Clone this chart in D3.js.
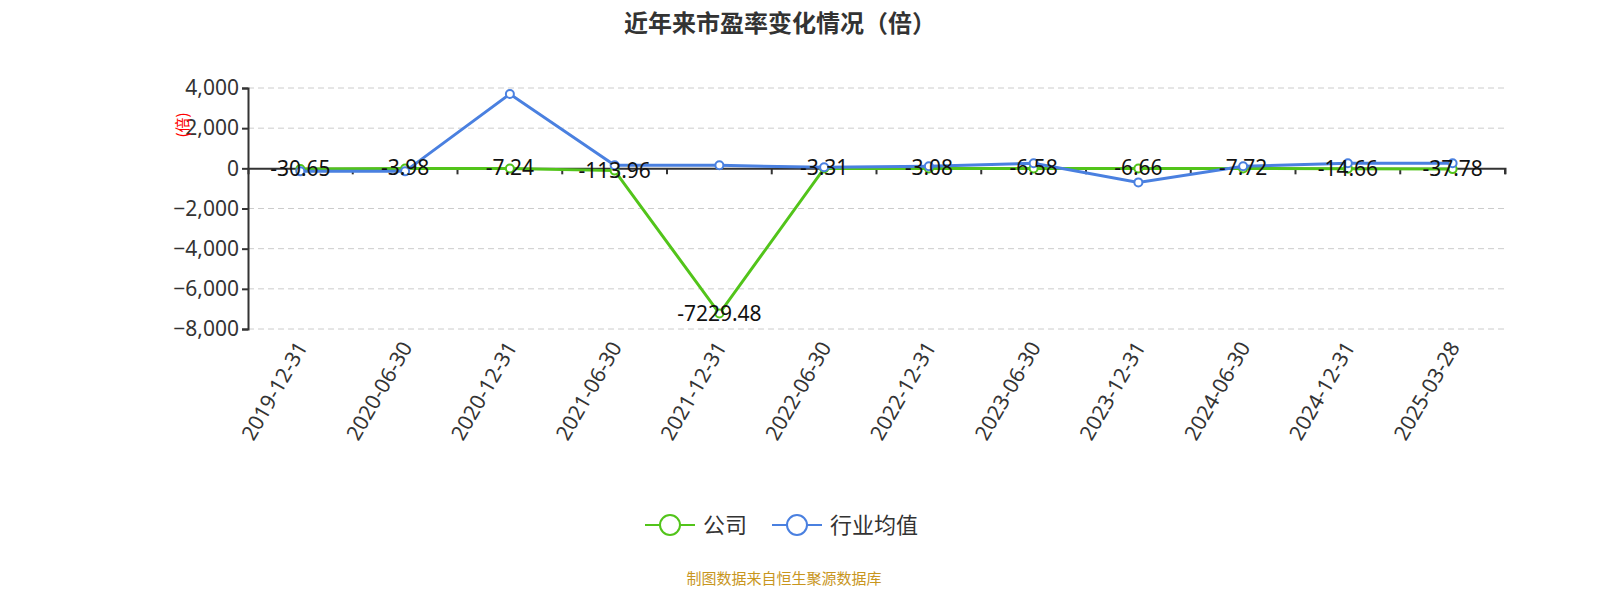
<!DOCTYPE html><html><head><meta charset="utf-8"><script src="https://d3js.org/d3.v7.min.js"></script>
<style>html,body{margin:0;padding:0;overflow:hidden;background:#fff;font-family:"Noto Sans CJK SC","Noto Sans",sans-serif}svg{display:block}</style></head><body><svg id="c" width="1600" height="600"></svg>
<script>
const categories=["2019-12-31","2020-06-30","2020-12-31","2021-06-30","2021-12-31","2022-06-30","2022-12-31","2023-06-30","2023-12-31","2024-06-30","2024-12-31","2025-03-28"];
const company=[-30.65,-3.98,-7.24,-113.96,-7229.48,-3.31,-3.08,-6.58,-6.66,-7.72,-14.66,-37.78];
const industry=[-150,-150,3700,150,150,50,100,250,-700,100,250,250];
const yTicks=[4000,2000,0,-2000,-4000,-6000,-8000];
const svg=d3.select("#c");
const L=248,R=1505,T=88,B=329;
const x=d3.scaleBand().domain(categories).range([L,R]);
const y=d3.scaleLinear().domain([-8000,4000]).range([B,T]);
const cx=d=>x(d)+x.bandwidth()/2;
svg.append("text").attr("x",780).attr("y",32).attr("text-anchor","middle").attr("font-size",24).attr("font-weight","bold").attr("fill","#333").text("近年来市盈率变化情况（倍）");
svg.selectAll(".g").data(yTicks).enter().append("line").attr("x1",L).attr("x2",R).attr("y1",d=>y(d)).attr("y2",d=>y(d)).attr("stroke","#ccc").attr("stroke-dasharray","6,4").filter(d=>d===0).remove();
const ya=svg.append("g").attr("transform",`translate(${L},0)`).call(d3.axisLeft(y).tickValues(yTicks).tickFormat(d3.format(",")).tickSize(6));
ya.selectAll("text").attr("font-size",21).attr("fill","#333").attr("font-family","Noto Sans");
ya.selectAll("line,path").attr("stroke","#333").attr("stroke-width",2);
const xa=svg.append("g").attr("transform",`translate(0,${y(0)})`).call(d3.axisBottom(x).tickSize(6).tickFormat(""));
xa.selectAll("line,path").attr("stroke","#333").attr("stroke-width",2);
xa.selectAll(".tick line").attr("transform",`translate(${x.bandwidth()/2},0)`);
categories.forEach(c=>svg.append("text").attr("transform",`translate(${cx(c)+8},${B+18}) rotate(-60)`).attr("text-anchor","end").attr("font-size",21).attr("fill","#333").attr("font-family","Noto Sans").text(c));
svg.append("text").attr("transform",`translate(188,125) rotate(-90)`).attr("text-anchor","middle").attr("font-size",15).attr("fill","red").text("(倍)");
const line=d3.line().x((d,i)=>cx(categories[i])).y(d=>y(d));
function series(vals,col){
 svg.append("path").datum(vals).attr("d",line).attr("fill","none").attr("stroke",col).attr("stroke-width",3);
 svg.selectAll(null).data(vals).enter().append("circle").attr("cx",(d,i)=>cx(categories[i])).attr("cy",d=>y(d)).attr("r",4).attr("fill","#fff").attr("stroke",col).attr("stroke-width",2);
}
series(company,"#52c41a");
series(industry,"#4a80e0");
svg.selectAll(null).data(company).enter().append("text").attr("x",(d,i)=>cx(categories[i])).attr("y",d=>y(d)+7).attr("text-anchor","middle").attr("font-size",21).attr("fill","#111").attr("font-family","Noto Sans").text(d=>d);
const lg=[["公司","#52c41a",645],["行业均值","#4a80e0",772]];
lg.forEach(([t,c,x0])=>{svg.append("line").attr("x1",x0).attr("x2",x0+50).attr("y1",525).attr("y2",525).attr("stroke",c).attr("stroke-width",2);
svg.append("circle").attr("cx",x0+25).attr("cy",525).attr("r",10).attr("fill","#fff").attr("stroke",c).attr("stroke-width",2);
svg.append("text").attr("x",x0+58).attr("y",533).attr("font-size",22).attr("fill","#333").text(t);});
svg.append("text").attr("x",784).attr("y",584).attr("text-anchor","middle").attr("font-size",15).attr("fill","#c8961e").text("制图数据来自恒生聚源数据库");
</script></body></html>
